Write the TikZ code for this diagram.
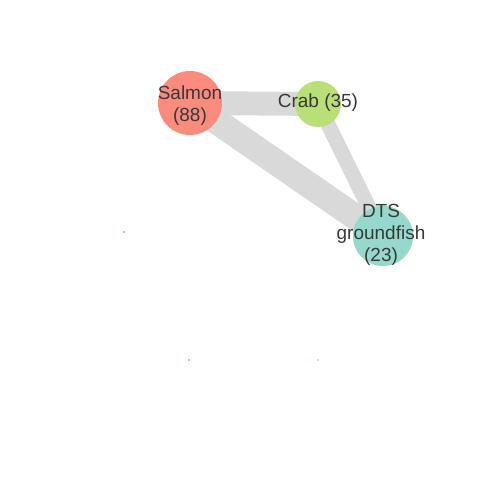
\documentclass[tikz,border=0pt]{standalone}
\usepackage{fontspec}
\setmainfont{Liberation Sans}
\usetikzlibrary{backgrounds}
\definecolor{salmonfill}{HTML}{FA8B7D}
\definecolor{crabfill}{HTML}{B9E077}
\definecolor{dtsfill}{HTML}{94D9CB}
\definecolor{linkgray}{HTML}{D9D9D9}
\definecolor{textgray}{HTML}{383838}
\tikzset{
  fish/.style={circle, inner sep=0pt, draw=none},
  tiny/.style={rectangle, inner sep=0pt, minimum size=1.6pt, draw=none},
  lbl/.style={align=center, text=textgray, font=\fontsize{13.5}{15.6}\selectfont},
  link/.style={draw=linkgray, line cap=butt}
}

\begin{document}
\begin{tikzpicture}[x=0.025cm, y=-0.025cm]
\useasboundingbox (0,0) rectangle (480,480);
\node[fish, fill=salmonfill, minimum size=45.5pt] (salmon) at (190,103) {};
\node[fish, fill=crabfill, minimum size=32.7pt] (crab) at (318,104) {};
\node[fish, fill=dtsfill, minimum size=42.7pt] (dts) at (383,236) {};

\node[tiny, fill=dtsfill] (dot1) at (124,232) {};
\node[tiny, fill=dtsfill] (dot2) at (189,360) {};
\node[tiny, fill=crabfill!70] (dot3) at (318,360) {};

\begin{scope}[on background layer]
\path[link, line width=17pt] (salmon.center) edge (crab.center);
\path[link, line width=18.5pt] (salmon.center) edge (dts.center);
\path[link, line width=10.7pt] (crab.center) edge (dts.center);
\end{scope}

\node[lbl] (salmon-txt) at (190,106) {Salmon\\(88)};
\node[lbl] (crab-txt) at (318,103) {Crab (35)};
\node[lbl] (dts-txt) at (381,235) {DTS\\groundfish\\(23)};
\end{tikzpicture}
\end{document}
